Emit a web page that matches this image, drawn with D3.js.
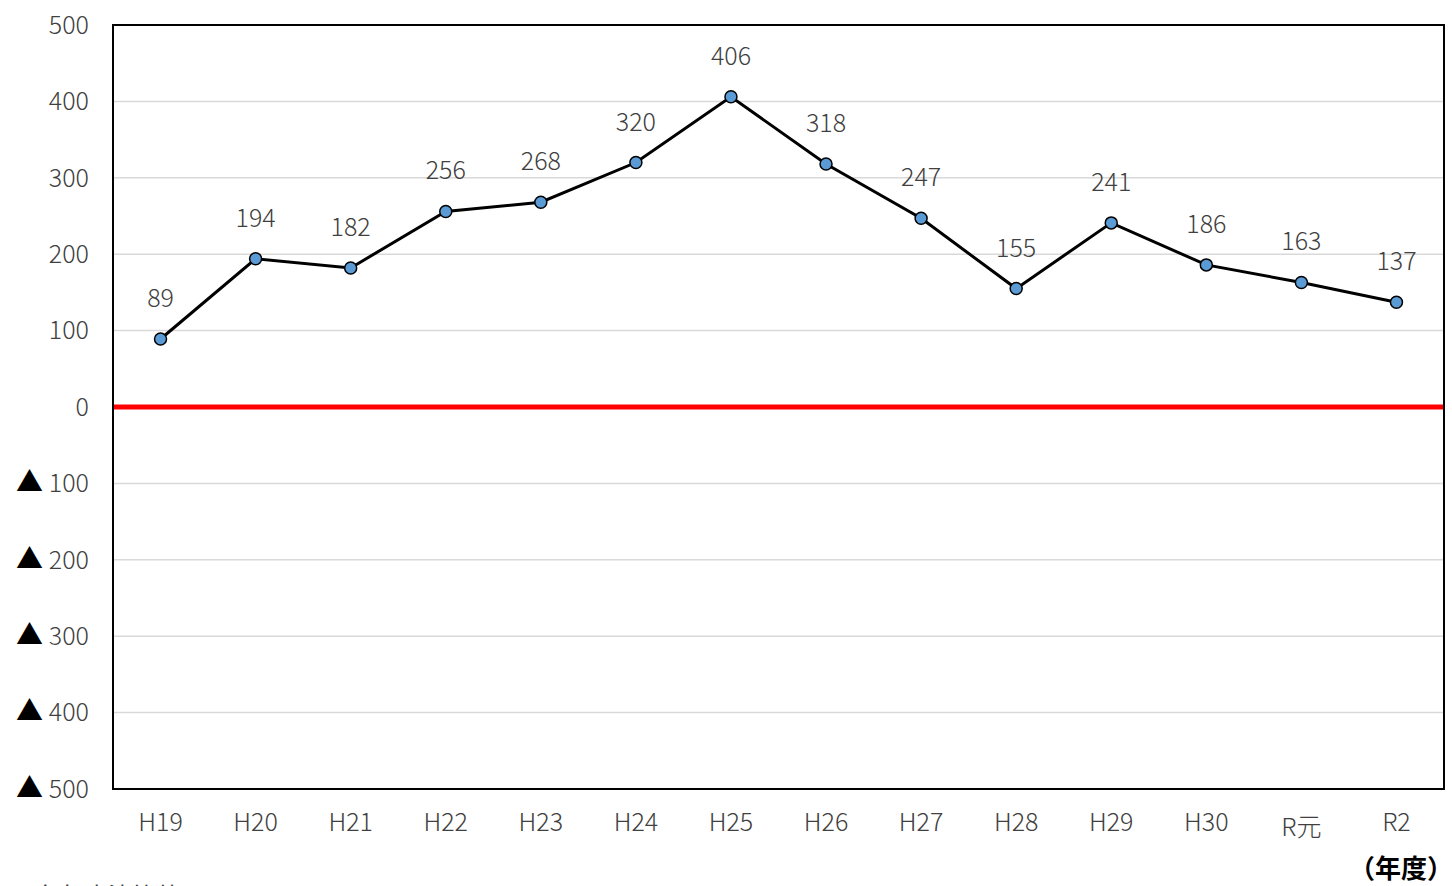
<!DOCTYPE html>
<html>
<head>
<meta charset="utf-8">
<script src="https://cdn.jsdelivr.net/npm/d3@7"></script>
<style>
  body { margin: 0; background: #fff; }
  svg text { font-family: "Noto Sans CJK JP", "Noto Sans", sans-serif; }
</style>
</head>
<body>
<svg id="chart"></svg>
<script>
// fiscal years and values
const years = ['H19', 'H20', 'H21', 'H22', 'H23', 'H24', 'H25', 'H26', 'H27', 'H28', 'H29', 'H30', 'R元', 'R2'];
const values = [89, 194, 182, 256, 268, 320, 406, 318, 247, 155, 241, 186, 163, 137];
const yTicks = [500, 400, 300, 200, 100, 0, -100, -200, -300, -400, -500];

const width = 1452;
const height = 886;
const margin = { top: 25, right: 8, bottom: 97, left: 113 };

const svg = d3.select('#chart')
    .attr('width', width)
    .attr('height', height);

const x = d3.scalePoint()
    .domain(years)
    .range([margin.left, width - margin.right])
    .padding(0.5);

const y = d3.scaleLinear()
    .domain([-500, 500])
    .range([height - margin.bottom, margin.top]);

// gridlines
svg.append('g')
    .selectAll('line')
    .data(yTicks.filter(d => d !== 0 && d !== 500 && d !== -500))
    .enter().append('line')
    .attr('x1', margin.left).attr('x2', width - margin.right)
    .attr('y1', d => y(d)).attr('y2', d => y(d))
    .attr('stroke', '#d9d9d9')
    .attr('stroke-width', 1.5);

// y tick labels, negatives shown as ▲
const yLab = svg.append('g')
    .selectAll('text')
    .data(yTicks)
    .enter().append('text')
    .attr('x', 89)
    .attr('y', d => y(d))
    .attr('dy', '0.35em')
    .attr('text-anchor', 'end')
    .attr('font-size', 25)
    .attr('font-weight', 300)
    .attr('fill', '#404040');

yLab.filter(d => d < 0).append('tspan')
    .attr('fill', '#000')
    .attr('font-size', 27)
    .text('▲  ');
yLab.append('tspan')
    .text(d => Math.abs(d));

// x labels
svg.append('g')
    .selectAll('text')
    .data(years)
    .enter().append('text')
    .attr('x', d => x(d))
    .attr('y', d => d === 'R元' ? 836 : 831)
    .attr('text-anchor', 'middle')
    .attr('font-size', 25)
    .attr('font-weight', 300)
    .attr('fill', '#404040')
    .text(d => d);

// zero line
svg.append('line')
    .attr('x1', margin.left).attr('x2', width - margin.right)
    .attr('y1', y(0)).attr('y2', y(0))
    .attr('stroke', '#ff0000')
    .attr('stroke-width', 5);

// plot frame
svg.append('rect')
    .attr('x', margin.left)
    .attr('y', margin.top)
    .attr('width', width - margin.left - margin.right)
    .attr('height', height - margin.top - margin.bottom)
    .attr('fill', 'none')
    .attr('stroke', '#000')
    .attr('stroke-width', 2);

// line
const line = d3.line()
    .x((d, i) => x(years[i]))
    .y(d => y(d));

svg.append('path')
    .datum(values)
    .attr('d', line)
    .attr('fill', 'none')
    .attr('stroke', '#000')
    .attr('stroke-width', 3);

// markers
svg.append('g')
    .selectAll('circle')
    .data(values)
    .enter().append('circle')
    .attr('cx', (d, i) => x(years[i]))
    .attr('cy', d => y(d))
    .attr('r', 6)
    .attr('fill', '#5b9bd5')
    .attr('stroke', '#000')
    .attr('stroke-width', 1.5);

// value labels
svg.append('g')
    .selectAll('text')
    .data(values)
    .enter().append('text')
    .attr('x', (d, i) => x(years[i]))
    .attr('y', d => y(d) - 32)
    .attr('text-anchor', 'middle')
    .attr('font-size', 25)
    .attr('font-weight', 300)
    .attr('fill', '#404040')
    .text(d => d);

// unit label
svg.append('text')
    .attr('x', 1453)
    .attr('y', 878)
    .attr('text-anchor', 'end')
    .attr('font-size', 26)
    .attr('font-weight', 700)
    .attr('fill', '#000')
    .text('（年度）');

// footnote (cut off at bottom as in the source)
svg.append('text')
    .attr('x', 12)
    .attr('y', 905)
    .attr('font-size', 24)
    .attr('fill', '#404040')
    .text('※各年度決算値');
</script>
</body>
</html>
